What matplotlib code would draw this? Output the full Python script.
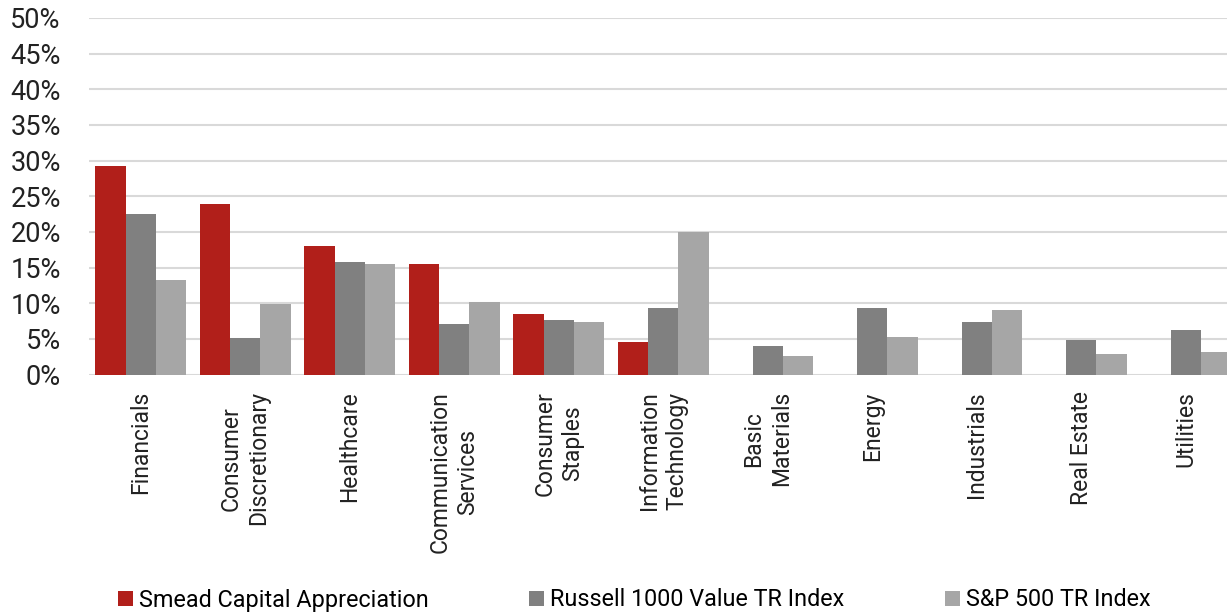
#!/usr/bin/env python

import numpy as np
from matplotlib import pyplot as plt

sectors = ['Financials', 'Consumer\nDiscretionary', 'Healthcare',
           'Communication\nServices', 'Consumer\nStaples',
           'Information\nTechnology', 'Basic\nMaterials', 'Energy',
           'Industrials', 'Real Estate', 'Utilities']

smead = [29.2, 23.9, 18.0, 15.5, 8.5, 4.6, 0, 0, 0, 0, 0]
russell = [22.5, 5.1, 15.75, 7.1, 7.7, 9.35, 4.0, 9.35, 7.4, 4.85, 6.25]
sp500 = [13.2, 9.9, 15.5, 10.1, 7.4, 20.0, 2.6, 5.2, 9.1, 2.9, 3.2]

series_names = ['Smead Capital Appreciation', 'Russell 1000 Value TR Index',
                'S&P 500 TR Index']
colors = ['#b11f1a', '#808080', '#a6a6a6']

yticks = [0, 5, 10, 15, 20, 25, 30, 35, 40, 45, 50]

plt.rcParams['font.family'] = ['Roboto', 'DejaVu Sans']

W, H = 1227, 613
fig = plt.figure(figsize=(W / 100, H / 100), dpi=100)

# axes runs a bit past the right edge, like the original crop
left, right = 88.5, 1238
bottom, top = 374.5, 18
ax = fig.add_axes([left / W, (H - bottom) / H, (right - left) / W,
                   (bottom - top) / H])

x = np.arange(len(sectors))
bw = 0.29
for i, (vals, name, c) in enumerate(zip([smead, russell, sp500],
                                         series_names, colors)):
    ax.bar(x + (i - 1) * bw, vals, bw, color=c, label=name, zorder=3)

ax.set_xlim(-0.5, len(sectors) - 0.5)
ax.set_ylim(0, 50)
ax.set_yticks(yticks)
ax.set_yticklabels(['%d%%' % v for v in yticks], fontsize=19.5, color='#222222')
ax.yaxis.grid(True, color='#d9d9d9', lw=1.5, zorder=0)
ax.set_axisbelow(True)
for s in ax.spines.values():
    s.set_visible(False)
ax.tick_params(axis='y', length=0, pad=20)
ax.tick_params(axis='x', length=0, pad=12)

ax.set_xticks(x)
ax.set_xticklabels(sectors, rotation=90, fontsize=16.5, color='#222222',
                   multialignment='center', va='top', ha='center',
                   linespacing=1.25)

handles, labels = ax.get_legend_handles_labels()
fig.legend(handles, labels, loc='center left', ncol=3, frameon=False,
           bbox_to_anchor=(118 / W, 1 - 600 / H), fontsize=16.8,
           handlelength=0.65, handleheight=0.65, handletextpad=0.25,
           columnspacing=4.3, borderaxespad=0, borderpad=0)

fig.savefig('out.png', dpi=100)
